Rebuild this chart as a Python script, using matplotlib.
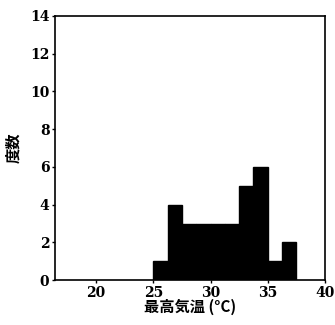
import matplotlib
matplotlib.use('Agg')
import matplotlib.pyplot as plt

# histogram of daily max temperature (31 days)
bin_edges = [25.0, 26.25, 27.5, 28.75, 30.0, 31.25, 32.5, 33.75, 35.0, 36.25, 37.5]
counts = [1, 4, 3, 3, 3, 3, 5, 6, 1, 2]
x_ticks = [20, 25, 30, 35, 40]
y_ticks = [0, 2, 4, 6, 8, 10, 12, 14]

widths = [bin_edges[i + 1] - bin_edges[i] for i in range(len(counts))]

fig = plt.figure(figsize=(3.35, 3.25), dpi=100)
ax = fig.add_axes([0.164, 0.138, 0.806, 0.813])
ax.bar(bin_edges[:-1], counts, width=widths, align='edge', color='black', edgecolor='black')

ax.set_xlim(16.4, 40)
ax.set_ylim(0, 14)
ax.set_xticks(x_ticks)
ax.set_yticks(y_ticks)
for lab in ax.get_xticklabels() + ax.get_yticklabels():
    lab.set_family('DejaVu Serif')
    lab.set_fontsize(10)
    lab.set_fontweight('bold')
ax.tick_params(direction='out', length=2, width=1, pad=2)
for s in ax.spines.values():
    s.set_linewidth(1.2)

jp = ['Noto Sans CJK JP', 'DejaVu Sans']
ax.set_xlabel('最高気温 (°C)', family=jp, fontsize=11, fontweight='bold', labelpad=-1)
ax.set_ylabel('度数', family=jp, fontsize=11, fontweight='bold', labelpad=6)

fig.savefig('out.png', dpi=100)
